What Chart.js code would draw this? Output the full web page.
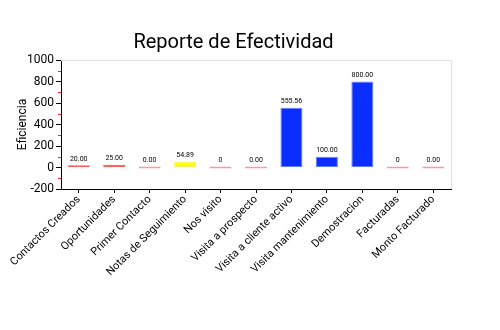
<!DOCTYPE html>
<html lang="es">
  <head>
    <meta charset="utf-8" />
    <title>Reporte de Efectividad</title>
    <style>
      html, body { margin: 0; padding: 0; background: #fff; overflow: hidden; }
      .chartBox { width: 500px; height: 330px; }
    </style>
  </head>
  <body>
    <div class="chartBox">
      <canvas id="myChart" width="500" height="330"></canvas>
    </div>

    <script src="https://cdn.jsdelivr.net/npm/chart.js/dist/chart.umd.min.js"></script>
    <script>
      // datos
      const categorias = [
        "Contactos Creados",
        "Oportunidades",
        "Primer Contacto",
        "Notas de Seguimiento",
        "Nos visito",
        "Visita a prospecto",
        "Visita a cliente activo",
        "Visita mantenimiento",
        "Demostracion",
        "Facturadas",
        "Monto Facturado",
      ];
      const eficiencia = [20, 25, 0, 54.89, 0, 0, 555.56, 100, 800, 0, 0];
      const etiquetas = ["20.00", "25.00", "0.00", "54.89", "0", "0.00", "555.56", "100.00", "800.00", "0", "0.00"];
      const ticksY = [-200, 0, 200, 400, 600, 800, 1000];

      const fuente = "Roboto, 'Liberation Sans', sans-serif";

      // color segun el valor
      function colorBarra(v) {
        if (v === 0) return "rgba(255, 70, 70, 0.9)";
        if (v < 50) return "#ff1010";
        if (v < 100) return "#ffff00";
        return "#0a2eff";
      }
      function bordeBarra(v) {
        if (v === 0) return "rgba(255, 110, 110, 0.7)";
        if (v < 50) return "rgba(255, 50, 50, 0.8)";
        if (v < 100) return "rgba(240, 240, 60, 0.8)";
        return "rgba(60, 90, 255, 0.8)";
      }

      // marco gris, marcas rojas intermedias y valores sobre las barras
      const extras = {
        id: "extras",
        afterDraw(chart) {
          const { ctx, chartArea, scales } = chart;
          ctx.save();
          ctx.strokeStyle = "#e2e2e2";
          ctx.lineWidth = 1;
          ctx.beginPath();
          ctx.moveTo(chartArea.left, chartArea.top + 0.5);
          ctx.lineTo(chartArea.right + 0.5, chartArea.top + 0.5);
          ctx.lineTo(chartArea.right + 0.5, chartArea.bottom);
          ctx.stroke();

          ctx.strokeStyle = "#ff2020";
          for (let v = -100; v < 1000; v += 200) {
            const y = Math.round(scales.y.getPixelForValue(v)) + 0.5;
            ctx.beginPath();
            ctx.moveTo(chartArea.left - 3, y);
            ctx.lineTo(chartArea.left, y);
            ctx.stroke();
          }

          ctx.fillStyle = "#000";
          ctx.font = "7px " + fuente;
          ctx.textAlign = "center";
          ctx.textBaseline = "bottom";
          const meta = chart.getDatasetMeta(0);
          meta.data.forEach((bar, i) => {
            ctx.fillText(etiquetas[i], bar.x, Math.min(bar.y, bar.base) - 3);
          });
          ctx.restore();
        },
      };

      const config = {
        type: "bar",
        data: {
          labels: categorias,
          datasets: [
            {
              data: eficiencia,
              backgroundColor: eficiencia.map(colorBarra),
              borderColor: eficiencia.map(bordeBarra),
              borderWidth: 1,
              borderSkipped: false,
              minBarLength: 2,
              barPercentage: 0.62,
              categoryPercentage: 1,
            },
          ],
        },
        options: {
          responsive: false,
          animation: false,
          layout: { padding: { left: 16, right: 49, top: 0, bottom: 41 } },
          plugins: {
            legend: { display: false },
            tooltip: { enabled: false },
            title: {
              display: true,
              text: "Reporte de Efectividad",
              color: "#000",
              font: { family: fuente, size: 20, weight: "normal" },
              padding: { top: 31, bottom: 5 },
            },
          },
          scales: {
            x: {
              afterFit(scale) {
                scale.height = 100;
              },
              grid: {
                offset: false,
                drawOnChartArea: false,
                color: "#000",
                tickLength: 4,
              },
              border: { color: "#000", width: 1 },
              ticks: {
                color: "#000",
                minRotation: 45,
                maxRotation: 45,
                padding: 0,
                font: { family: fuente, size: 11 },
              },
            },
            y: {
              min: -200,
              max: 1000,
              afterBuildTicks(axis) {
                axis.ticks = ticksY.map((v) => ({ value: v }));
              },
              afterFit(scale) {
                scale.width = 45;
              },
              grid: {
                drawOnChartArea: false,
                color: "#000",
                tickLength: 5,
              },
              border: { color: "#000", width: 1 },
              ticks: {
                color: "#000",
                padding: 2,
                font: { family: fuente, size: 12 },
                callback: (v) => String(v),
              },
              title: {
                display: true,
                text: "Eficiencia",
                color: "#000",
                font: { family: fuente, size: 12 },
                padding: { top: 0, bottom: 2 },
              },
            },
          },
        },
        plugins: [extras],
      };

      const myChart = new Chart(document.getElementById("myChart"), config);
    </script>
  </body>
</html>
